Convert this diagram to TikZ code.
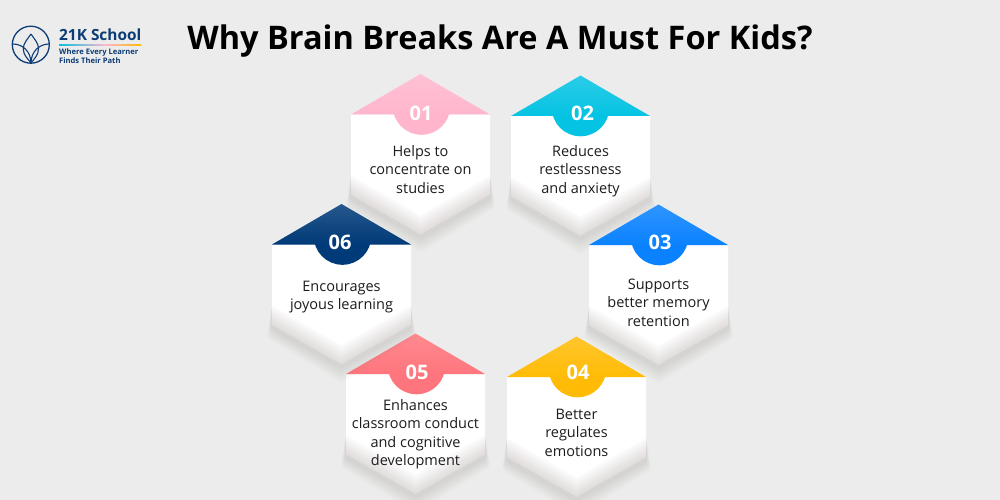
\documentclass[tikz,border=0pt]{standalone}
\usepackage{fontspec}
\setmainfont{Open Sans}
\usetikzlibrary{calc}
\definecolor{bgc}{HTML}{ECECEC}
\definecolor{navy}{HTML}{0B3C75}
\definecolor{ink}{HTML}{1C1C1C}
\definecolor{tint}{HTML}{8F7F7B}
\definecolor{c1}{HTML}{FFB6CD}
\definecolor{c2}{HTML}{05C3E3}
\definecolor{c3}{HTML}{0A82FF}
\definecolor{c4}{HTML}{FFBB06}
\definecolor{c5}{HTML}{FF757D}
\definecolor{c6}{HTML}{003A78}
\tikzset{
  x=1pt,y=-1pt,
  cardtext/.style={align=center,inner sep=0pt,text=ink,font=\fontsize{14.5}{18.5}\selectfont},
  cardnum/.style={inner sep=0pt,text=white,font=\fontsize{20}{24}\selectfont\bfseries},
  petal/.style={draw=navy,line width=1.1pt},
}
\newcommand\hexcard[9]{% id, cx, shoulder y, colour, number, text, text y, number pos, circle dx
\begin{scope}[shift={(#2,#3)}]
  \foreach \d in {2,4,...,16}{
    \fill[tint,opacity=.028,rounded corners=3pt]
      (-69.5,62)--({-69.5-.32*\d},{84+.55*\d})--(0,{122.5+\d})--({69.5+.32*\d},{84+.55*\d})--(69.5,62)--cycle;
  }
  \fill[white] (-69.5,0)--(-69.5,80.5)--(0,120)--(69.5,80.5)--(69.5,0)--cycle;
  \begin{scope}
    \clip (-69.5,0)--(-69.5,80.5)--(0,120)--(69.5,80.5)--(69.5,0)--cycle;
    \foreach \w in {3,8,...,33}{
      \draw[tint,opacity=.04,line width=\w pt,line join=miter]
        (-120,51.5)--(0,120)--(120,51.5);
    }
  \end{scope}
  \shade[top color=#4!85!white,bottom color=#4] (0,-40.5)--(-69.5,0)--(69.5,0)--cycle;
  \begin{scope}
    \clip (-40,0) rectangle (40,40);
    \fill[#4] (#9,-8.5) circle[radius=28.8];
  \end{scope}
  \node[cardnum] (n#1) at (#8) {#5};
  \node[cardtext] (t#1) at (0,#7) {#6};
\end{scope}}
\begin{document}
\begin{tikzpicture}
\useasboundingbox (0,0) rectangle (1000,500);
\fill[bgc] (0,0) rectangle (1000,500);
% title
\node[inner sep=0pt,text=black,font=\fontsize{32.5}{38}\selectfont\bfseries] (title) at (500,41) {Why Brain Breaks Are A Must For Kids?};
% logo
\draw[navy,line width=1.3pt] (30.8,44.7) circle[radius=18.5];
\draw[petal] (31,34) .. controls (27,40) and (23.3,43) .. (23.3,49) .. controls (23.3,55) and (28,59) .. (31,63)
   .. controls (34,59) and (38.5,55) .. (38.5,49) .. controls (38.5,43) and (35,40) .. (31,34);
\draw[petal] (13,44) .. controls (23,44) and (31,52) .. (31,63);
\draw[petal] (49,44) .. controls (39,44) and (31,52) .. (31,63);
\node[inner sep=0pt,anchor=base west,text=navy,font=\fontsize{15.4}{16}\selectfont\bfseries] (brand) at (59,41) {21K School};
\shade[left color=c2,right color=c1] (59,44.3) rectangle (105,45.8);
\shade[left color=c1,right color=c4] (105,44.3) rectangle (141,45.8);
\node[inner sep=0pt,anchor=base west,text=navy,font=\fontsize{7.6}{9}\selectfont\bfseries] (tag1) at (59,55) {Where Every Learner};
\node[inner sep=0pt,anchor=base west,text=navy,font=\fontsize{7.6}{9}\selectfont\bfseries] (tag2) at (59,64) {Finds Their Path};
% cards
\hexcard{1}{420.5}{114.5}{c1}{01}{Helps to\\concentrate on\\studies}{55}{0.5,-1.5}{1}
\hexcard{2}{580.5}{116}{c2}{02}{Reduces\\restlessness\\and anxiety}{55}{2,-3}{0}
\hexcard{3}{658.5}{245}{c3}{03}{Supports\\better memory\\retention}{57.5}{1.5,-3}{1}
\hexcard{4}{576.5}{377}{c4}{04}{Better\\regulates\\emotions}{55.5}{1.5,-4.5}{1}
\hexcard{5}{415.5}{374}{c5}{05}{Enhances\\classroom conduct\\and cognitive\\development}{60}{1.5,-1.5}{1}
\hexcard{6}{341.5}{244.5}{c6}{06}{Encourages\\joyous learning}{52.5}{-1.5,-2.5}{1}
\end{tikzpicture}
\end{document}
